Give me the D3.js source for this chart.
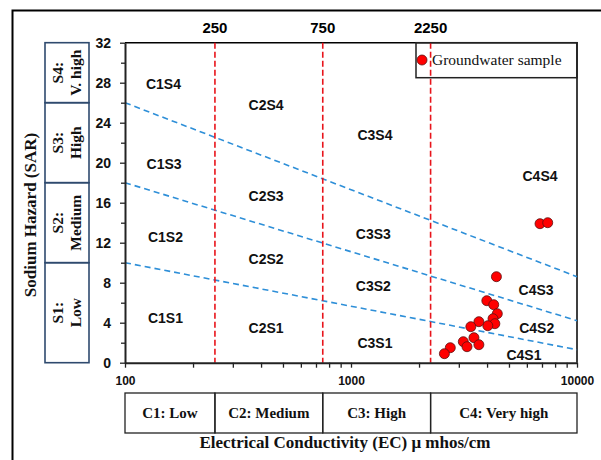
<!DOCTYPE html>
<html>
<head>
<meta charset="utf-8">
<script src="https://cdn.jsdelivr.net/npm/d3@7"></script>
<style>
  body { margin: 0; background: #fff; }
  svg { display: block; }
</style>
</head>
<body>
<svg id="chart" width="601" height="460"></svg>
<script>
// Groundwater samples: electrical conductivity (µmhos/cm) and sodium adsorption ratio
const ecValues  = [6860, 7420, 4400, 3990, 4280, 4440, 4250, 4330, 4030, 3680, 3390, 3500, 3140, 3260, 3680, 2750, 2590];
const sarValues = [13.9, 14.0, 8.6, 6.2, 5.8, 4.9, 4.4, 3.9, 3.7, 4.1, 3.6, 2.5, 2.1, 1.6, 1.8, 1.5, 0.9];

// Salinity class boundaries (EC) and names
const ecClassBounds = [250, 750, 2250];
const ecClassNames = ["C1: Low", "C2: Medium", "C3: High", "C4: Very high"];

// Sodium class bands (SAR at EC = 100) and names
const sarClassBounds = [0, 10, 18, 26, 32];
const sarClassNames = [["S1:", "Low"], ["S2:", "Medium"], ["S3:", "High"], ["S4:", "V. high"]];

// Sodium hazard boundary lines: SAR at EC = 100 and at EC = 10000
const hazardLineStart = [10, 18, 26];
const hazardLineEnd = [1.3, 4.2, 8.6];

// Axis ticks
const xTickValues = [100, 1000, 10000];
const xMinorTicks = [200, 300, 400, 500, 600, 700, 800, 900, 2000, 3000, 4000, 5000, 6000, 7000, 8000, 9000];
const yTickValues = [0, 4, 8, 12, 16, 20, 24, 28, 32];
const yMinorTicks = [2, 6, 10, 14, 18, 22, 26, 30];

// Zone names with their anchor points (EC, SAR)
const zoneNames = ["C1S4", "C2S4", "C3S4", "C4S4", "C1S3", "C2S3", "C3S3", "C4S3",
                   "C1S2", "C2S2", "C3S2", "C4S2", "C1S1", "C2S1", "C3S1", "C4S1"];
const zoneEC  = [148, 421, 1277, 6860, 149, 421, 1255, 6590, 151, 421, 1255, 6634, 151, 421, 1277, 5826];
const zoneSAR = [27.9, 25.8, 22.8, 18.7, 19.9, 16.7, 12.9, 7.3, 12.6, 10.4, 7.7, 3.5, 4.5, 3.5, 2.0, 0.8];

const SANS = "'Liberation Sans', Arial, sans-serif";
const SERIF = "'Liberation Serif', 'Times New Roman', serif";

const svg = d3.select("#chart");
const plot = { left: 125, right: 577, top: 42.7, bottom: 362.7 };

const x = d3.scaleLog().domain([100, 10000]).range([plot.left, plot.right]);
const y = d3.scaleLinear().domain([0, 32]).range([plot.bottom, plot.top]);

// outer frame
svg.append("rect")
  .attr("x", 12.5).attr("y", 10.5).attr("width", 700).attr("height", 500)
  .attr("fill", "none").attr("stroke", "#000").attr("stroke-width", 2);

// plot frame (top and right)
svg.append("path")
  .attr("d", `M${plot.left},${plot.top}H${plot.right}V${plot.bottom}`)
  .attr("fill", "none").attr("stroke", "#000").attr("stroke-width", 1.5);

// sodium hazard boundary lines
const hazardLine = d3.line().x(d => x(d[0])).y(d => y(d[1]));
svg.append("g").selectAll("path")
  .data(hazardLineStart.map((s, i) => [[100, s], [10000, hazardLineEnd[i]]]))
  .join("path")
  .attr("d", hazardLine)
  .attr("fill", "none")
  .attr("stroke", "#2E8FD8")
  .attr("stroke-width", 1.6)
  .attr("stroke-dasharray", "6,4");

// salinity class boundaries
svg.append("g").selectAll("line")
  .data(ecClassBounds)
  .join("line")
  .attr("x1", d => x(d)).attr("x2", d => x(d))
  .attr("y1", y(32)).attr("y2", y(0))
  .attr("stroke", "#E8141B")
  .attr("stroke-width", 1.6)
  .attr("stroke-dasharray", "6,3");

// boundary labels above the plot
svg.append("g").selectAll("text")
  .data(ecClassBounds)
  .join("text")
  .attr("x", d => x(d)).attr("y", 32.5)
  .attr("text-anchor", "middle")
  .attr("font-family", SANS).attr("font-weight", "bold").attr("font-size", 15)
  .text(d => d);

// zone names
svg.append("g").selectAll("text")
  .data(zoneNames)
  .join("text")
  .attr("x", (d, i) => x(zoneEC[i]))
  .attr("y", (d, i) => y(zoneSAR[i]))
  .attr("dy", "0.36em")
  .attr("text-anchor", "middle")
  .attr("font-family", SANS).attr("font-weight", "bold").attr("font-size", 14)
  .attr("fill", "#111")
  .text(d => d);

// x axis
const xAxis = svg.append("g")
  .attr("transform", `translate(0,${plot.bottom})`)
  .call(d3.axisBottom(x).tickValues(xTickValues).tickFormat(d3.format("d"))
    .tickSize(5).tickSizeOuter(0).tickPadding(9));
svg.append("g")
  .attr("transform", `translate(0,${plot.bottom})`)
  .call(d3.axisBottom(x).tickValues(xMinorTicks).tickFormat("").tickSize(5).tickSizeOuter(0))
  .call(g => g.select(".domain").remove());

// y axis
const yAxis = svg.append("g")
  .attr("transform", `translate(${plot.left},0)`)
  .call(d3.axisLeft(y).tickValues(yTickValues).tickSize(5).tickSizeOuter(0).tickPadding(9));
svg.append("g")
  .attr("transform", `translate(${plot.left},0)`)
  .call(d3.axisLeft(y).tickValues(yMinorTicks).tickFormat("").tickSize(4).tickSizeOuter(0))
  .call(g => g.select(".domain").remove());

svg.selectAll(".tick line").attr("stroke", "#222").attr("stroke-width", 1.3);
[xAxis, yAxis].forEach(g => {
  g.select(".domain").attr("stroke", "#222").attr("stroke-width", 2);
  g.selectAll(".tick text")
    .attr("font-family", SANS).attr("font-weight", "bold").attr("fill", "#111");
});
xAxis.selectAll(".tick text").attr("font-size", 12);
yAxis.selectAll(".tick text").attr("font-size", 14);

// samples
svg.append("g").selectAll("circle")
  .data(ecValues)
  .join("circle")
  .attr("cx", d => x(d))
  .attr("cy", (d, i) => y(sarValues[i]))
  .attr("r", 5)
  .attr("fill", "#FF0000")
  .attr("stroke", "#5A1010")
  .attr("stroke-width", 0.8);

// legend
const legend = svg.append("g");
legend.append("rect")
  .attr("x", 416).attr("y", plot.top).attr("width", plot.right - 416).attr("height", 35)
  .attr("fill", "none").attr("stroke", "#222").attr("stroke-width", 1.5);
legend.append("circle")
  .attr("cx", 422).attr("cy", 60).attr("r", 5)
  .attr("fill", "#FF0000").attr("stroke", "#5A1010").attr("stroke-width", 0.8);
legend.append("text")
  .attr("x", 432).attr("y", 65)
  .attr("font-family", SERIF).attr("font-size", 15.5).attr("fill", "#111")
  .text("Groundwater sample");

// salinity class boxes below the axis
const ecEdges = [100, ...ecClassBounds, 10000];
const cBoxes = svg.append("g").selectAll("g")
  .data(ecClassNames)
  .join("g");
cBoxes.append("rect")
  .attr("x", (d, i) => x(ecEdges[i]))
  .attr("y", 393)
  .attr("width", (d, i) => x(ecEdges[i + 1]) - x(ecEdges[i]))
  .attr("height", 40)
  .attr("fill", "none").attr("stroke", "#222").attr("stroke-width", 1.3);
cBoxes.append("text")
  .attr("x", (d, i) => (x(ecEdges[i]) + x(ecEdges[i + 1])) / 2)
  .attr("y", 418)
  .attr("text-anchor", "middle")
  .attr("font-family", SERIF).attr("font-weight", "bold").attr("font-size", 15)
  .attr("fill", "#111")
  .text(d => d);

// sodium class boxes beside the axis
const sBoxes = svg.append("g").selectAll("g")
  .data(sarClassNames)
  .join("g");
sBoxes.append("rect")
  .attr("x", 45)
  .attr("y", (d, i) => y(sarClassBounds[i + 1]))
  .attr("width", 44)
  .attr("height", (d, i) => y(sarClassBounds[i]) - y(sarClassBounds[i + 1]))
  .attr("fill", "none").attr("stroke", "#2F4A6E").attr("stroke-width", 1.6);
sBoxes.append("text")
  .attr("transform", (d, i) => {
    const cy = (y(sarClassBounds[i]) + y(sarClassBounds[i + 1])) / 2;
    return `translate(67,${cy}) rotate(-90)`;
  })
  .attr("text-anchor", "middle")
  .attr("font-family", SERIF).attr("font-weight", "bold").attr("font-size", 15.5)
  .attr("fill", "#111")
  .selectAll("tspan")
  .data(d => d)
  .join("tspan")
  .attr("x", 0)
  .attr("y", (d, j) => j === 0 ? -4 : 14)
  .text(d => d);

// axis titles
svg.append("text")
  .attr("transform", "translate(36,215) rotate(-90)")
  .attr("text-anchor", "middle")
  .attr("font-family", SERIF).attr("font-weight", "bold").attr("font-size", 17)
  .attr("fill", "#111")
  .text("Sodium Hazard (SAR)");

svg.append("text")
  .attr("x", 345).attr("y", 448)
  .attr("text-anchor", "middle")
  .attr("font-family", SERIF).attr("font-weight", "bold").attr("font-size", 17)
  .attr("fill", "#111")
  .text("Electrical Conductivity (EC) \u03BC mhos/cm");
</script>
</body>
</html>
